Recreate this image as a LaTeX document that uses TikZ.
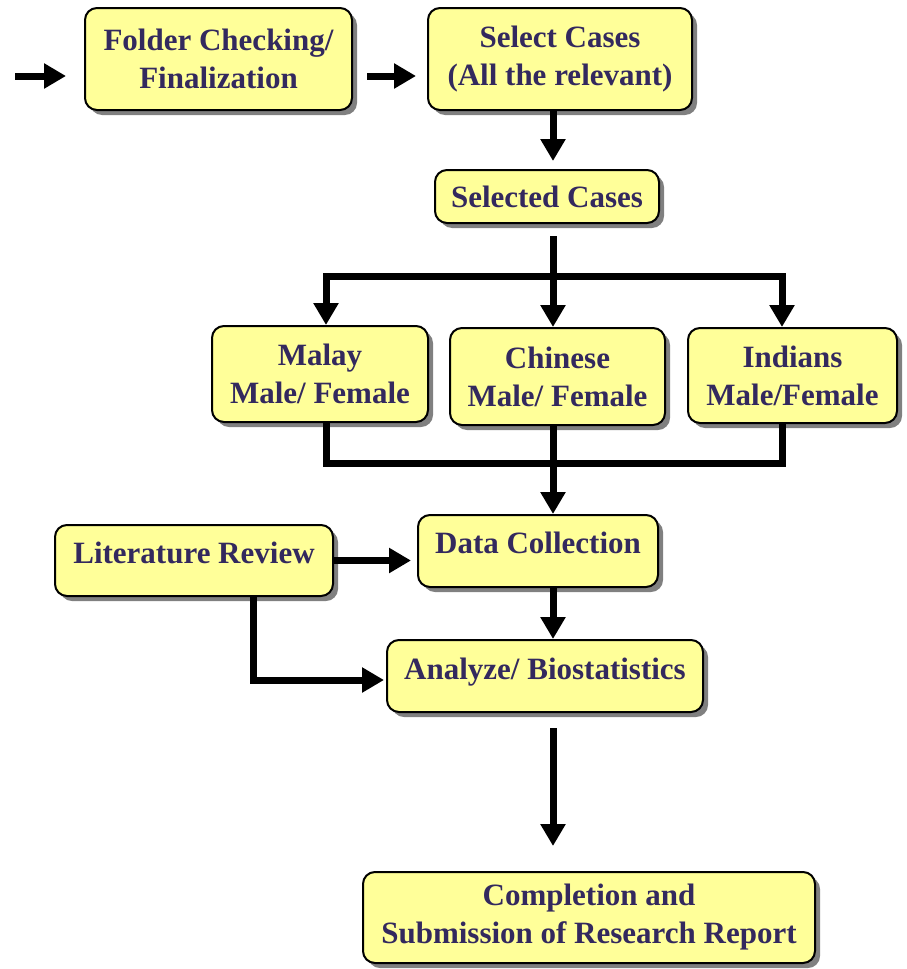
\documentclass[tikz,border=0pt]{standalone}
\usepackage{fontspec}
\setmainfont{Liberation Serif}
\usetikzlibrary{arrows.meta,shadows,positioning}
\definecolor{boxfill}{RGB}{255,255,153}
\definecolor{boxtext}{RGB}{51,41,94}
\begin{document}
\begin{tikzpicture}[x=0.5pt, y=-0.5pt,
    stagebox/.style={draw, line width=1pt, rounded corners=6pt, fill=boxfill,
        text=boxtext, font=\fontsize{15.5}{19}\selectfont\bfseries,
        align=center, inner sep=0pt,
        drop shadow={shadow xshift=2.5pt, shadow yshift=-2.5pt, fill=gray, opacity=1}},
    flow/.style={line width=3.5pt, -{Triangle[length=11pt, width=12pt]}},
    link/.style={line width=3.5pt}]

    \useasboundingbox (0,0) rectangle (906,969);

    % Helper coordinates for the connectors
    \coordinate (trunk) at (553,0);
    \coordinate (entry) at (15,76);
    \coordinate (bus) at (553,276);
    \coordinate (busL) at (326,276);
    \coordinate (busR) at (782,276);
    \coordinate (joinL) at (326,463);
    \coordinate (join) at (553,463);
    \coordinate (joinR) at (782,463);
    \coordinate (litdrop) at (253,680);

    % Top row
    \node[stagebox, minimum width=133.5pt, minimum height=51pt] (folder) at (218.5,59)
        {Folder Checking/\\Finalization};
    \node[stagebox, minimum width=132pt, minimum height=51pt] (select) at (560,59)
        {Select Cases\\(All the relevant)};
    \node[stagebox, minimum width=112pt, minimum height=26.5pt] (selected) at (547,196.5)
        {Selected Cases};

    % Ethnic groups
    \node[stagebox, minimum width=108pt, minimum height=48pt] (malay) at (320,374)
        {Malay\\Male/ Female};
    \node[stagebox, minimum width=107.5pt, minimum height=48.5pt] (chinese) at (557.5,376.5)
        {Chinese\\Male/ Female};
    \node[stagebox, minimum width=104.5pt, minimum height=47.5pt] (indians) at (792.5,375.5)
        {Indians\\Male/Female};

    % Collection and analysis
    \node[stagebox, minimum width=139pt, minimum height=35.5pt,
        text height=11pt, text depth=8.3pt] (litrev) at (194,560.5) {Literature Review};
    \node[stagebox, minimum width=120pt, minimum height=36pt,
        text height=11pt, text depth=8.3pt] (data) at (538,551) {Data Collection};
    \node[stagebox, minimum width=158pt, minimum height=36pt,
        text height=11pt, text depth=7.8pt] (analyze) at (545,676) {Analyze/ Biostatistics};
    \node[stagebox, minimum width=226pt, minimum height=45.5pt] (report) at (589,917.5)
        {Completion and\\Submission of Research Report};

    % Arrows along the top
    \draw[flow, shorten >=9pt] (entry) -- (folder.west |- entry);
    \draw[flow, shorten <=7pt, shorten >=5.5pt]
        ([yshift=-8.5pt]folder.east) -- ([yshift=-8.5pt]select.west);
    \draw[flow, shorten >=4pt] (select.south -| trunk) -- (selected.north -| trunk);

    % Split into the three groups
    \draw[link, shorten <=6pt] (selected.south -| trunk) -- (bus);
    \draw[flow] (bus) -| (busL |- malay.north);
    \draw[flow] (bus) -- (chinese.north -| bus);
    \draw[flow] (bus) -| (busR |- indians.north);

    % Merge back into data collection
    \draw[link] (malay.south -| joinL) -- (joinL) -- (joinR) -- (indians.south -| joinR);
    \draw[flow] (chinese.south -| join) -- (data.north -| join);

    % Literature review feeds
    \draw[flow, shorten >=3pt] (litrev.east) -- (data.west |- litrev.east);
    \draw[flow, shorten >=1pt] (litrev.south -| litdrop) -- (litdrop) -- (analyze.west |- litdrop);

    % Down to the report
    \draw[flow] (data.south -| trunk) -- (analyze.north -| trunk);
    \draw[flow, shorten <=7.5pt, shorten >=12.5pt] (analyze.south -| trunk) -- (report.north -| trunk);

\end{tikzpicture}
\end{document}
